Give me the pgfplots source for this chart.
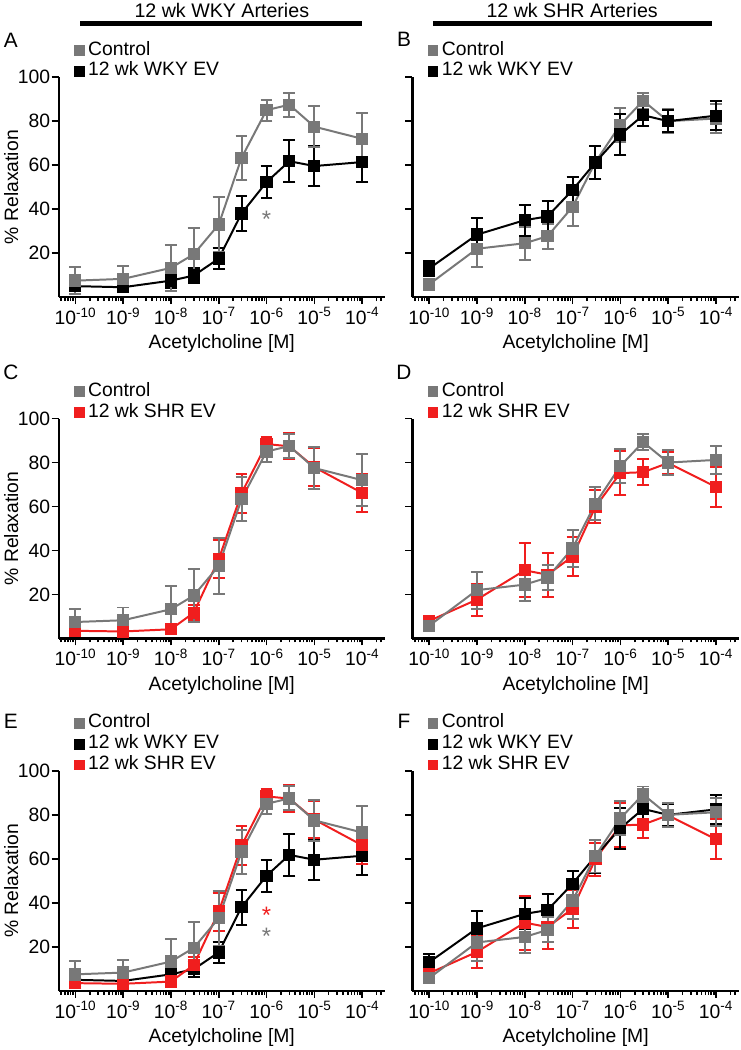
\documentclass[border=0pt]{standalone}
\usepackage{fontspec}
\setmainfont{Liberation Sans}
\usepackage{pgfplots}
\usepackage{pgfplotstable}
\pgfplotsset{compat=1.18}
\definecolor{cgray}{RGB}{120,120,120}
\definecolor{cred}{RGB}{240,30,30}

% x = log10 of acetylcholine concentration [M]
% Column 1 (WKY arteries)
\pgfplotstableread{
x y e
-10 7.5 6
-9 8.3 5.8
-8 13.3 10.4
-7.523 19.5 12
-7 33 12.6
-6.523 63.3 10
-6 85 4.7
-5.523 87.5 5.5
-5 77.5 9.4
-4 72 11.9
}\ctlL
\pgfplotstableread{
x y e
-10 5 2
-9 4.5 2
-8 7.5 3.5
-7.523 9.8 3.5
-7 17.5 4.8
-6.523 38 8
-6 52.3 7.3
-5.523 61.8 9.5
-5 59.6 9
-4 61.4 8.9
}\wkyL
\pgfplotstableread{
x y e
-10 3.5 1.5
-9 3.2 1.5
-8 4.2 1.5
-7.523 11.7 3.5
-7 36 8.7
-6.523 66 9
-6 88.4 3.3
-5.523 87.4 6
-5 77.9 8.6
-4 66.2 8.5
}\shrL
% Column 2 (SHR arteries)
\pgfplotstableread{
x y e
-10 5.8 1.5
-9 22 8.4
-8 24.5 7.4
-7.523 27.7 5.7
-7 41 8.5
-6.523 61.3 7.5
-6 78.4 7.7
-5.523 89.3 3.6
-5 80 5.6
-4 81.2 6.4
}\ctlR
\pgfplotstableread{
x y e
-10 13 3.6
-9 28.4 7.8
-8 35 7
-7.523 36.7 7.2
-7 48.7 5.7
-6.523 61.2 7.5
-6 73.9 9.3
-5.523 82.7 5
-5 80 5
-4 82.5 6.6
}\wkyR
\pgfplotstableread{
x y e
-10 8 2
-9 17.7 7.3
-8 31 12.3
-7.523 29 10
-7 37.3 8.7
-6.523 59.8 7.5
-6 75.2 10
-5.523 75.6 5.9
-5 79.8 5
-4 68.9 9
}\shrR

\newcommand{\myfs}{\fontsize{19.5}{21}\selectfont}
\newcommand{\sqimg}[1]{\addlegendimage{legend image code/.code={\fill[#1] (-5bp,-5bp) rectangle (5bp,5bp);}}}
\tikzset{sigstar/.style={inner sep=0pt, font=\fontsize{24}{24}\selectfont}}
\pgfplotsset{
 mypanel/.style={
   scale only axis, width=328bp, height=221bp,
   xmin=-10.35, xmax=-3.52, ymin=0, ymax=100,
   axis lines*=left, axis line style={line width=2.2bp, -},
   xtick={-10,-9,-8,-7,-6,-5,-4},
   xticklabels={10\textsuperscript{-10},10\textsuperscript{-9},10\textsuperscript{-8},10\textsuperscript{-7},10\textsuperscript{-6},10\textsuperscript{-5},10\textsuperscript{-4}},
   minor xtick={-10.301,-10.222,-10.155,-10.097,-10.046,
     -9.699,-9.523,-9.398,-9.301,-9.222,-9.155,-9.097,-9.046,
     -8.699,-8.523,-8.398,-8.301,-8.222,-8.155,-8.097,-8.046,
     -7.699,-7.523,-7.398,-7.301,-7.222,-7.155,-7.097,-7.046,
     -6.699,-6.523,-6.398,-6.301,-6.222,-6.155,-6.097,-6.046,
     -5.699,-5.523,-5.398,-5.301,-5.222,-5.155,-5.097,-5.046,
     -4.699,-4.523,-4.398,-4.301,-4.222,-4.155,-4.097,-4.046,
     -3.699,-3.602},
   ytick={20,40,60,80,100},
   tick align=outside, major tick length=7bp, minor tick length=4bp,
   tick style={black, line width=1.6bp},
   tick label style={font=\myfs},
   yticklabel style={xshift=2bp},
   /pgf/number format/assume math mode=true,
   clip=false,
   xlabel={Acetylcholine [M]},
   xlabel style={at={(axis description cs:0.5,-0.213)}, anchor=center, font=\myfs},
   ylabel style={at={(axis description cs:-0.145,0.5)}, anchor=center, font=\myfs},
   legend style={draw=none, fill=none, at={(0,1)}, anchor=south west, xshift=15bp, yshift=-4bp,
     font=\myfs, inner sep=0pt, row sep=1bp, column sep=3bp,
     nodes={inner sep=1bp, text height=14bp, text depth=4bp}},
   legend cell align=left,
 },
 myser/.style={color=#1, line width=2bp, mark=square*, mark size=5.2bp,
   mark options={solid, fill=#1, draw=#1},
   error bars/y dir=both, error bars/y explicit,
   error bars/error bar style={line width=2bp, color=#1},
   error bars/error mark options={rotate=90, mark size=6bp, line width=2bp, color=#1}},
}

\begin{document}
\begin{tikzpicture}
\path (0bp,0bp) rectangle (741bp,1050bp);
% titles
\node[font=\fontsize{19.8}{21}\selectfont] at (220bp,1042bp) {12 wk WKY Arteries};
\draw[line width=5bp] (78bp,1029bp) -- (361bp,1029bp);
\node[font=\fontsize{19.8}{21}\selectfont] at (572bp,1042bp) {12 wk SHR Arteries};
\draw[line width=5bp] (432bp,1029bp) -- (713bp,1029bp);
% panel letters
\node[font=\fontsize{21}{22}\selectfont] at (8bp,1012bp) {A};
\node[font=\fontsize{21}{22}\selectfont] at (403bp,1013bp) {B};
\node[font=\fontsize{21}{22}\selectfont] at (8bp,678bp) {C};
\node[font=\fontsize{21}{22}\selectfont] at (403bp,678bp) {D};
\node[font=\fontsize{21}{22}\selectfont] at (8bp,328bp) {E};
\node[font=\fontsize{21}{22}\selectfont] at (403bp,328bp) {F};

% A
\begin{axis}[mypanel, at={(56bp,754bp)}, anchor=south west, ylabel={\% Relaxation}]
\sqimg{cgray}\sqimg{black}
\addplot[myser=black] table[x=x,y=y,y error=e]{\wkyL};
\addplot[myser=cgray] table[x=x,y=y,y error=e]{\ctlL};
\legend{Control,12 wk WKY EV}
\node[sigstar, text=cgray] at (axis cs:-6,35.5) {*};
\end{axis}
% B
\begin{axis}[mypanel, at={(411.5bp,754bp)}, anchor=south west, yticklabels={}]
\sqimg{cgray}\sqimg{black}
\addplot[myser=cgray] table[x=x,y=y,y error=e]{\ctlR};
\addplot[myser=black] table[x=x,y=y,y error=e]{\wkyR};
\legend{Control,12 wk WKY EV}
\end{axis}
% C
\begin{axis}[mypanel, at={(56bp,411bp)}, anchor=south west, ylabel={\% Relaxation}]
\sqimg{cgray}\sqimg{cred}
\addplot[myser=cred] table[x=x,y=y,y error=e]{\shrL};
\addplot[myser=cgray] table[x=x,y=y,y error=e]{\ctlL};
\legend{Control,12 wk SHR EV}
\end{axis}
% D
\begin{axis}[mypanel, at={(411.5bp,411bp)}, anchor=south west, yticklabels={}]
\sqimg{cgray}\sqimg{cred}
\addplot[myser=cred] table[x=x,y=y,y error=e]{\shrR};
\addplot[myser=cgray] table[x=x,y=y,y error=e]{\ctlR};
\legend{Control,12 wk SHR EV}
\end{axis}
% E
\begin{axis}[mypanel, at={(56bp,57bp)}, anchor=south west, ylabel={\% Relaxation}]
\sqimg{cgray}\sqimg{black}\sqimg{cred}
\addplot[myser=black] table[x=x,y=y,y error=e]{\wkyL};
\addplot[myser=cred] table[x=x,y=y,y error=e]{\shrL};
\addplot[myser=cgray] table[x=x,y=y,y error=e]{\ctlL};
\legend{Control,12 wk WKY EV,12 wk SHR EV}
\node[sigstar, text=cred] at (axis cs:-6,34.5) {*};
\node[sigstar, text=cgray] at (axis cs:-6,25) {*};
\end{axis}
% F
\begin{axis}[mypanel, at={(411.5bp,57bp)}, anchor=south west, yticklabels={}]
\sqimg{cgray}\sqimg{black}\sqimg{cred}
\addplot[myser=cred] table[x=x,y=y,y error=e]{\shrR};
\addplot[myser=black] table[x=x,y=y,y error=e]{\wkyR};
\addplot[myser=cgray] table[x=x,y=y,y error=e]{\ctlR};
\legend{Control,12 wk WKY EV,12 wk SHR EV}
\end{axis}
\end{tikzpicture}
\end{document}
